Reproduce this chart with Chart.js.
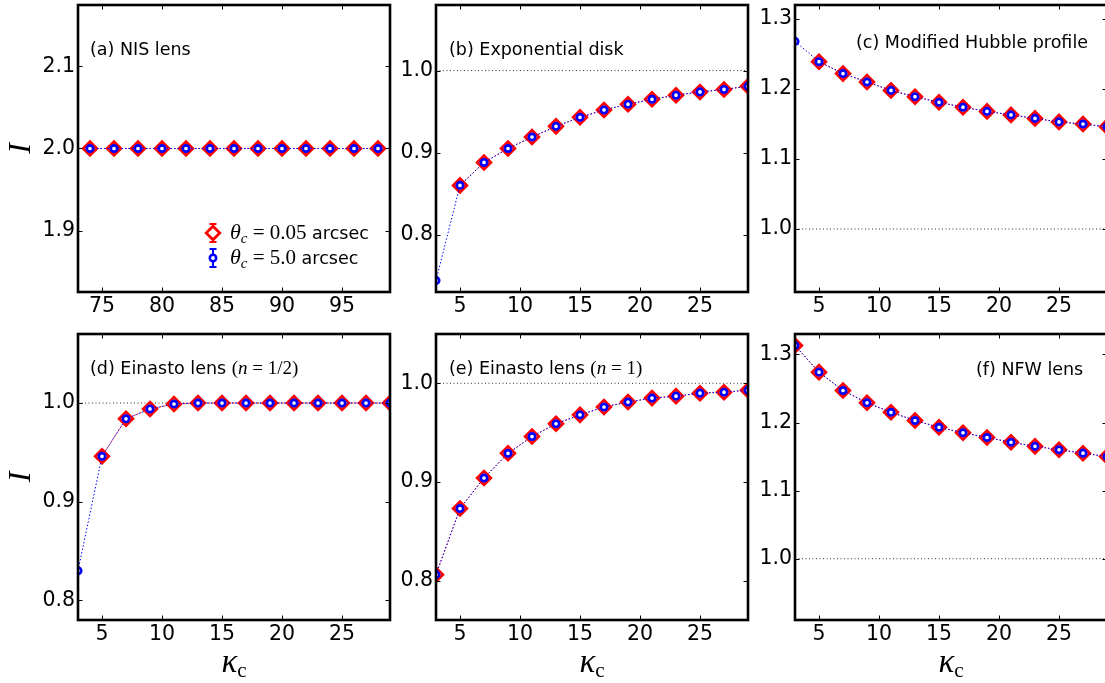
<!DOCTYPE html>
<html><head><meta charset="utf-8">
<script src="https://cdn.jsdelivr.net/npm/chart.js@4.4.0/dist/chart.umd.min.js"></script>
<style>
html,body{margin:0;padding:0;width:1105px;height:683px;overflow:hidden;background:#fff;position:relative}
canvas{position:absolute}
</style></head><body>
<script>
// ---------- data ----------
const kappaNIS = [74, 76, 78, 80, 82, 84, 86, 88, 90, 92, 94, 96, 98];
const nisRed   = [2.0, 2.0, 2.0, 2.0, 2.0, 2.0, 2.0, 2.0, 2.0, 2.0, 2.0, 2.0, 2.0];
const nisBlue  = [2.0, 2.0, 2.0, 2.0, 2.0, 2.0, 2.0, 2.0, 2.0, 2.0, 2.0, 2.0, 2.0];

const kappa = [3, 5, 7, 9, 11, 13, 15, 17, 19, 21, 23, 25, 27, 29];
const expRed   = [null, 0.860, 0.888, 0.905, 0.919, 0.932, 0.943, 0.952, 0.959, 0.965, 0.970, 0.974, 0.977, 0.981];
const expBlue  = [0.744, 0.860, 0.888, 0.905, 0.919, 0.932, 0.943, 0.952, 0.959, 0.965, 0.970, 0.974, 0.977, 0.981];
const hubRed   = [null, 1.239, 1.222, 1.210, 1.198, 1.189, 1.181, 1.174, 1.168, 1.163, 1.158, 1.153, 1.150, 1.146];
const hubBlue  = [1.268, 1.239, 1.222, 1.210, 1.198, 1.189, 1.181, 1.174, 1.168, 1.163, 1.158, 1.153, 1.150, 1.146];
const ein05Red  = [null, 0.946, 0.984, 0.994, 0.999, 1.000, 1.000, 1.000, 1.000, 1.000, 1.000, 1.000, 1.000, 1.000];
const ein05Blue = [0.830, 0.946, 0.984, 0.994, 0.999, 1.000, 1.000, 1.000, 1.000, 1.000, 1.000, 1.000, 1.000, 1.000];
const ein1Red   = [0.806, 0.873, 0.904, 0.929, 0.946, 0.959, 0.968, 0.976, 0.981, 0.985, 0.987, 0.990, 0.991, 0.993];
const ein1Blue  = [0.806, 0.873, 0.904, 0.929, 0.946, 0.959, 0.968, 0.976, 0.981, 0.985, 0.987, 0.990, 0.991, 0.993];
const nfwRed   = [1.313, 1.274, 1.247, 1.229, 1.215, 1.203, 1.193, 1.185, 1.178, 1.171, 1.165, 1.160, 1.155, 1.150];
const nfwBlue  = [1.313, 1.274, 1.247, 1.229, 1.215, 1.203, 1.193, 1.185, 1.178, 1.171, 1.165, 1.160, 1.155, 1.150];

const xTicksNIS = [75, 80, 85, 90, 95];
const xTicksK   = [5, 10, 15, 20, 25];
const yTicksA = [1.9, 2.0, 2.1];
const yTicksB = [0.8, 0.9, 1.0];
const yTicksC = [1.0, 1.1, 1.2, 1.3];
const yTicksD = [0.8, 0.9, 1.0];
const yTicksE = [0.8, 0.9, 1.0];
const yTicksF = [1.0, 1.1, 1.2, 1.3];
const refLevel = 1.0;
const legendLabels = ['0.05', '5.0'];

// ---------- layout / style ----------
const SANS = '"DejaVu Sans", sans-serif';
const MATH = '"Liberation Serif", "DejaVu Serif", serif';
const YW = 80, XH = 70, PT = 30, PR = 30;
const panels = [
  {L:78,  T:5,   W:312, H:287, xr:[73,99], yr:[1.825,2.175], x:kappaNIS, red:nisRed,  blue:nisBlue,  xt:xTicksNIS, yt:yTicksA, ref:false,
   ann:{x:12, y:50, runs:[{t:'(a) NIS lens', f:'17.5px '+SANS}]}, ylab:true, xlab:false, legend:true},
  {L:436, T:5,   W:312, H:287, xr:[3,29], yr:[0.73,1.08], x:kappa, red:expRed, blue:expBlue, xt:xTicksK, yt:yTicksB, ref:true,
   ann:{x:13, y:50, runs:[{t:'(b) Exponential disk', f:'17.5px '+SANS}]}},
  {L:795, T:5,   W:312, H:287, xr:[3,29], yr:[0.91,1.32], x:kappa, red:hubRed, blue:hubBlue, xt:xTicksK, yt:yTicksC, ref:true,
   ann:{x:61, y:43, runs:[{t:'(c) Modified Hubble profile', f:'17.5px '+SANS}]}},
  {L:78,  T:334, W:312, H:286, xr:[3,29], yr:[0.78,1.07], x:kappa, red:ein05Red, blue:ein05Blue, xt:xTicksK, yt:yTicksD, ref:true,
   ann:{x:12, y:39.5, runs:[{t:'(d) Einasto lens ', f:'17.5px '+SANS},{t:'(', f:'19px '+MATH},{t:'n', f:'italic 19px '+MATH},{t:' = ', f:'19px '+MATH},{t:'1/2', f:'19px '+MATH},{t:')', f:'19px '+MATH}]},
   ylab:true, xlab:true},
  {L:436, T:334, W:312, H:286, xr:[3,29], yr:[0.76,1.05], x:kappa, red:ein1Red, blue:ein1Blue, xt:xTicksK, yt:yTicksE, ref:true,
   ann:{x:13, y:40, runs:[{t:'(e) Einasto lens ', f:'17.5px '+SANS},{t:'(', f:'19px '+MATH},{t:'n', f:'italic 19px '+MATH},{t:' = ', f:'19px '+MATH},{t:'1', f:'19px '+MATH},{t:')', f:'19px '+MATH}]},
   xlab:true},
  {L:795, T:334, W:312, H:286, xr:[3,29], yr:[0.91,1.33], x:kappa, red:nfwRed, blue:nfwBlue, xt:xTicksK, yt:yTicksF, ref:true,
   ann:{x:181, y:41, runs:[{t:'(f) NFW lens', f:'17.5px '+SANS}]}, xlab:true},
];

function drawRuns(ctx, x, y, runs) {
  ctx.textBaseline = 'alphabetic'; ctx.textAlign = 'left';
  for (const r of runs) {
    ctx.font = r.f;
    ctx.fillText(r.t, x, y + (r.dy || 0));
    x += ctx.measureText(r.t).width;
  }
  return x;
}

const decorPlugin = {
  id: 'decor',
  afterDatasetsDraw(chart) {
    const p = chart.options.plugins.decor.panel;
    const {ctx, chartArea: a} = chart;
    const xs = chart.scales.x, ys = chart.scales.y;
    ctx.save();
    ctx.strokeStyle = '#000'; ctx.fillStyle = '#000';
    ctx.lineWidth = 1;
    const TL = 4.5;
    ctx.beginPath();
    for (const t of xs.ticks) {
      const px = Math.round(xs.getPixelForValue(t.value)) + 0.5;
      ctx.moveTo(px, a.bottom); ctx.lineTo(px, a.bottom - TL);
      ctx.moveTo(px, a.top); ctx.lineTo(px, a.top + TL);
    }
    for (const t of ys.ticks) {
      const py = Math.round(ys.getPixelForValue(t.value)) + 0.5;
      ctx.moveTo(a.left, py); ctx.lineTo(a.left + TL, py);
      ctx.moveTo(a.right, py); ctx.lineTo(a.right - TL, py);
    }
    ctx.stroke();
    ctx.lineWidth = 2.6;
    ctx.strokeRect(a.left, a.top, a.right - a.left, a.bottom - a.top);

    // annotation
    drawRuns(ctx, a.left + p.ann.x, a.top + p.ann.y, p.ann.runs);

    // y label
    if (p.ylab) {
      ctx.save();
      ctx.translate(a.left - 56, (a.top + a.bottom) / 2);
      ctx.rotate(-Math.PI / 2);
      ctx.font = 'italic 32px ' + MATH;
      ctx.textAlign = 'center'; ctx.textBaseline = 'middle';
      ctx.fillText('I', 0, 0);
      ctx.restore();
    }
    // x label
    if (p.xlab) {
      ctx.font = 'italic 33px ' + MATH;
      const w1 = ctx.measureText('κ').width;
      ctx.font = '21px ' + MATH;
      const w2 = ctx.measureText('c').width;
      const cx = (a.left + a.right) / 2 - (w1 + w2) / 2;
      drawRuns(ctx, cx, a.bottom + 52, [{t:'κ', f:'italic 33px ' + MATH}, {t:'c', f:'21px ' + MATH, dy:5}]);
    }
    // legend
    if (p.legend) {
      const mx = a.left + 135;
      const rows = [{y: a.top + 228, c: '#ff0000', lab: legendLabels[0], diamond: true},
                    {y: a.top + 253, c: '#0000ff', lab: legendLabels[1], diamond: false}];
      for (const r of rows) {
        ctx.strokeStyle = r.c; ctx.lineWidth = 2;
        ctx.beginPath();
        ctx.moveTo(mx, r.y - 9); ctx.lineTo(mx, r.y + 9);
        ctx.moveTo(mx - 3.5, r.y - 9); ctx.lineTo(mx + 3.5, r.y - 9);
        ctx.moveTo(mx - 3.5, r.y + 9); ctx.lineTo(mx + 3.5, r.y + 9);
        ctx.stroke();
        ctx.fillStyle = '#fff';
        ctx.beginPath();
        if (r.diamond) {
          ctx.lineWidth = 2.8;
          ctx.moveTo(mx - 6.8, r.y); ctx.lineTo(mx, r.y - 6.8); ctx.lineTo(mx + 6.8, r.y); ctx.lineTo(mx, r.y + 6.8); ctx.closePath();
        } else {
          ctx.lineWidth = 2.6;
          ctx.arc(mx, r.y, 3.2, 0, Math.PI * 2);
        }
        ctx.fill(); ctx.stroke();
        ctx.fillStyle = '#000';
        drawRuns(ctx, a.left + 152, r.y + 5.5, [
          {t:'θ', f:'italic 22px ' + MATH},
          {t:'c', f:'italic 15px ' + MATH, dy:4},
          {t:' = ', f:'21px ' + MATH},
          {t:r.lab, f:'21px ' + MATH},
          {t:' arcsec', f:'17.5px ' + SANS}
        ]);
      }
    }
    ctx.restore();
  }
};

panels.forEach((p, i) => {
  const cv = document.createElement('canvas');
  cv.width = YW + p.W + PR;
  cv.height = PT + p.H + XH;
  cv.style.left = (p.L - YW) + 'px';
  cv.style.top = (p.T - PT) + 'px';
  document.body.appendChild(cv);
  const pts = arr => p.x.map((xv, j) => ({x: xv, y: arr[j]}));
  const datasets = [
    {data: pts(p.blue), borderColor: '#0000ff', borderWidth: 1, borderDash: [1.5, 2],
     pointStyle: 'circle', pointRadius: 3.2, pointBorderWidth: 2.7, pointBorderColor: '#0000ff', pointBackgroundColor: '#fff'},
    {data: pts(p.red), borderColor: '#ff0000', borderWidth: 1, borderDash: [1.5, 2],
     pointStyle: 'rectRot', pointRadius: 6.8, pointBorderWidth: 2.8, pointBorderColor: '#ff0000', pointBackgroundColor: '#fff'}
  ];
  if (p.ref) {
    datasets.push({data: [{x: p.xr[0], y: refLevel}, {x: p.xr[1], y: refLevel}], borderColor: '#333', borderWidth: 1,
      borderDash: [1, 2.5], pointRadius: 0});
  }
  new Chart(cv, {
    type: 'line',
    data: {datasets},
    options: {
      responsive: false, animation: false, devicePixelRatio: 1,
      layout: {padding: {top: PT, right: PR, left: 0, bottom: 0}},
      elements: {line: {tension: 0}},
      plugins: {legend: {display: false}, tooltip: {enabled: false}, decor: {panel: p}},
      scales: {
        x: {type: 'linear', min: p.xr[0], max: p.xr[1],
            grid: {display: false, drawTicks: false}, border: {display: false},
            afterBuildTicks: s => { s.ticks = p.xt.map(v => ({value: v})); },
            afterFit: s => { s.height = XH; },
            ticks: {font: {family: SANS, size: 20.5}, color: '#000', padding: 2, maxRotation: 0, autoSkip: false,
                     callback: v => String(v)}},
        y: {type: 'linear', min: p.yr[0], max: p.yr[1],
            grid: {display: false, drawTicks: false}, border: {display: false},
            afterBuildTicks: s => { s.ticks = p.yt.map(v => ({value: v})); },
            afterFit: s => { s.width = YW; },
            ticks: {font: {family: SANS, size: 20.5}, color: '#000', padding: 3, autoSkip: false,
                    callback: v => Number(v).toFixed(1)}}
      }
    },
    plugins: [decorPlugin]
  });
});
</script>
</body></html>
